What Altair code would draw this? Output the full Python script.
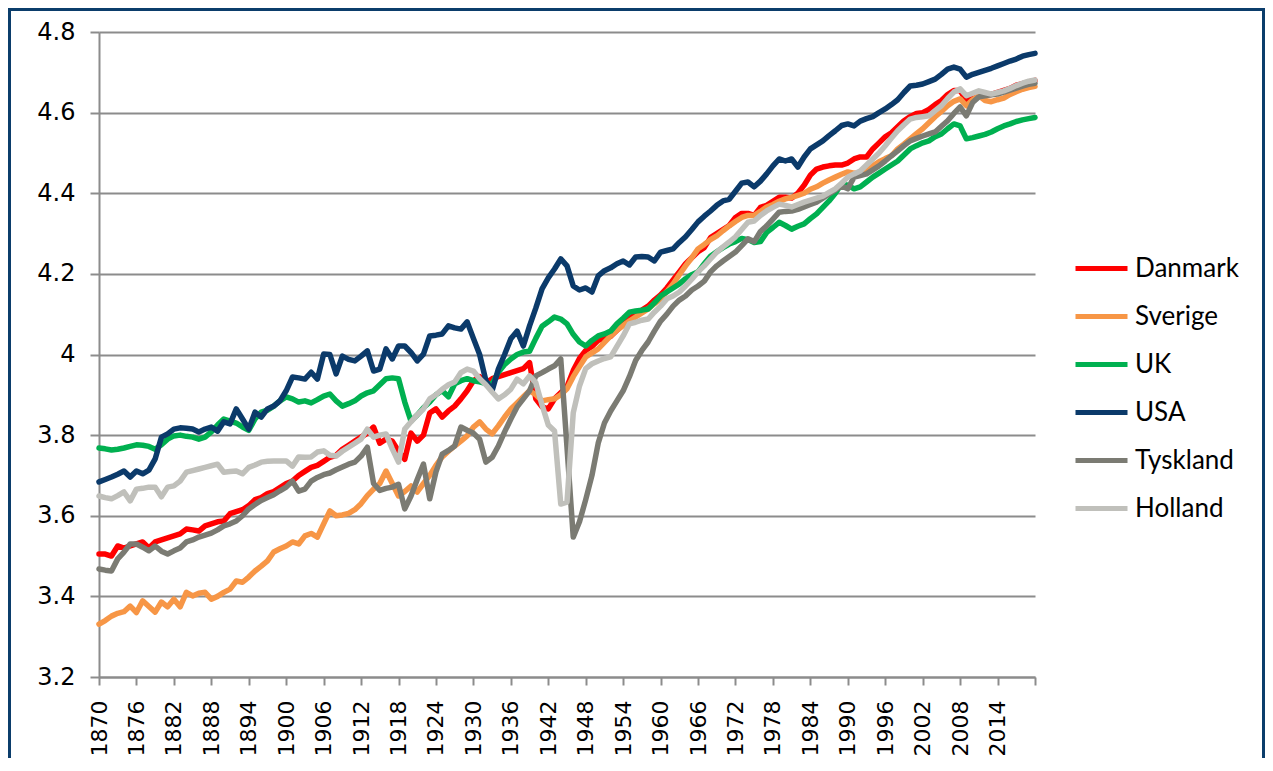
import altair as alt
import pandas as pd

years = list(range(1870, 2021))

countries = ["Danmark", "Sverige", "UK", "USA", "Tyskland", "Holland"]
colors = ["#FF0000", "#F79646", "#00B050", "#0B3A6A", "#7B7B73", "#C0C0BB"]

danmark = [
    3.505, 3.505, 3.500, 3.525, 3.520, 3.525, 3.530, 3.535, 3.520, 3.535,
    3.540, 3.545, 3.550, 3.555, 3.567, 3.565, 3.562, 3.575, 3.580, 3.585,
    3.587, 3.605, 3.610, 3.615, 3.625, 3.640, 3.645, 3.655, 3.660, 3.670,
    3.680, 3.686, 3.700, 3.710, 3.720, 3.725, 3.735, 3.745, 3.750, 3.765,
    3.775, 3.785, 3.795, 3.805, 3.820, 3.780, 3.790, 3.785, 3.760, 3.740,
    3.805, 3.785, 3.800, 3.855, 3.865, 3.845, 3.860, 3.872, 3.890, 3.910,
    3.935, 3.945, 3.930, 3.940, 3.945, 3.950, 3.955, 3.960, 3.965, 3.980,
    3.890, 3.870, 3.865, 3.890, 3.905, 3.920, 3.960, 3.990, 4.010, 4.020,
    4.035, 4.040, 4.045, 4.060, 4.075, 4.090, 4.100, 4.110, 4.120, 4.135,
    4.148, 4.165, 4.185, 4.205, 4.225, 4.240, 4.255, 4.265, 4.290, 4.300,
    4.310, 4.320, 4.340, 4.350, 4.350, 4.345, 4.365, 4.370, 4.380, 4.390,
    4.390, 4.388, 4.400, 4.420, 4.445, 4.460, 4.465, 4.468, 4.470, 4.470,
    4.475, 4.485, 4.490, 4.490, 4.510, 4.525, 4.540, 4.550, 4.565, 4.580,
    4.590, 4.598, 4.600, 4.608, 4.620, 4.630, 4.645, 4.655, 4.655, 4.630,
    4.635, 4.640, 4.645, 4.645, 4.650, 4.655, 4.660, 4.668, 4.672, 4.676,
    4.680,
]

sverige = [
    3.331, 3.340, 3.351, 3.358, 3.362, 3.376, 3.360, 3.389, 3.375, 3.361,
    3.386, 3.374, 3.393, 3.374, 3.410, 3.401, 3.408, 3.410, 3.393, 3.400,
    3.410, 3.418, 3.438, 3.435, 3.448, 3.463, 3.475, 3.488, 3.510, 3.518,
    3.525, 3.535, 3.530, 3.550, 3.556, 3.547, 3.580, 3.612, 3.600, 3.602,
    3.606, 3.615, 3.630, 3.650, 3.666, 3.680, 3.711, 3.680, 3.649, 3.660,
    3.674, 3.659, 3.680, 3.700, 3.725, 3.746, 3.760, 3.773, 3.785, 3.798,
    3.820, 3.833, 3.815, 3.803, 3.823, 3.845, 3.865, 3.880, 3.895, 3.910,
    3.900, 3.885, 3.888, 3.890, 3.900, 3.915, 3.945, 3.970, 3.994, 4.004,
    4.014, 4.030, 4.046, 4.060, 4.072, 4.083, 4.093, 4.103, 4.113, 4.126,
    4.138, 4.156, 4.175, 4.198, 4.220, 4.240, 4.262, 4.273, 4.285, 4.294,
    4.307, 4.319, 4.330, 4.340, 4.345, 4.345, 4.355, 4.366, 4.372, 4.380,
    4.386, 4.390, 4.395, 4.400, 4.410, 4.416, 4.425, 4.433, 4.440, 4.447,
    4.453, 4.450, 4.448, 4.458, 4.468, 4.478, 4.486, 4.493, 4.510, 4.522,
    4.535, 4.548, 4.560, 4.575, 4.590, 4.603, 4.617, 4.628, 4.634, 4.617,
    4.632, 4.642, 4.630, 4.627, 4.632, 4.636, 4.645, 4.652, 4.658, 4.662,
    4.665,
]

uk = [
    3.768, 3.766, 3.763, 3.765, 3.768, 3.772, 3.776, 3.775, 3.772, 3.765,
    3.776, 3.790, 3.798, 3.800, 3.797, 3.795, 3.790, 3.795, 3.808, 3.825,
    3.840, 3.835, 3.830, 3.820, 3.812, 3.840, 3.857, 3.862, 3.872, 3.885,
    3.895, 3.890, 3.882, 3.885, 3.880, 3.888, 3.897, 3.902, 3.885, 3.872,
    3.878, 3.885, 3.897, 3.905, 3.910, 3.925, 3.940, 3.942, 3.940, 3.882,
    3.835, 3.850, 3.868, 3.882, 3.900, 3.910, 3.895, 3.927, 3.935, 3.940,
    3.935, 3.932, 3.928, 3.927, 3.956, 3.975, 3.989, 4.000, 4.006, 4.008,
    4.040, 4.070, 4.081, 4.093, 4.088, 4.076, 4.050, 4.031, 4.021, 4.035,
    4.046, 4.051, 4.058, 4.076, 4.090, 4.105, 4.108, 4.110, 4.113, 4.128,
    4.145, 4.155, 4.165, 4.175, 4.188, 4.198, 4.205, 4.225, 4.244, 4.255,
    4.265, 4.274, 4.280, 4.288, 4.285, 4.278, 4.280, 4.303, 4.315, 4.328,
    4.320, 4.311, 4.318, 4.324, 4.337, 4.349, 4.365, 4.381, 4.400, 4.423,
    4.420, 4.411, 4.416, 4.428, 4.440, 4.450, 4.460, 4.470, 4.480, 4.495,
    4.510, 4.518, 4.525, 4.530, 4.540, 4.547, 4.560, 4.572, 4.567, 4.535,
    4.538, 4.542, 4.546, 4.552, 4.560, 4.567, 4.572, 4.578, 4.582, 4.585,
    4.588,
]

usa = [
    3.684, 3.690, 3.696, 3.703, 3.711, 3.696, 3.711, 3.704, 3.713, 3.741,
    3.795, 3.803, 3.815, 3.818, 3.817, 3.815, 3.808, 3.815, 3.820, 3.810,
    3.833, 3.828, 3.865, 3.840, 3.815, 3.857, 3.845, 3.865, 3.872, 3.885,
    3.910, 3.944, 3.942, 3.939, 3.956, 3.939, 4.001, 4.000, 3.952, 3.996,
    3.988, 3.984, 3.996, 4.009, 3.959, 3.964, 4.014, 3.989, 4.021, 4.021,
    4.005, 3.984, 4.001, 4.046, 4.048, 4.051, 4.071, 4.066, 4.063, 4.081,
    4.040, 4.000, 3.935, 3.910, 3.964, 4.000, 4.039, 4.058, 4.021, 4.071,
    4.115, 4.163, 4.190, 4.212, 4.237, 4.220, 4.170, 4.160, 4.165, 4.155,
    4.195, 4.208, 4.215, 4.225, 4.232, 4.222, 4.242, 4.243, 4.242, 4.232,
    4.254, 4.258, 4.262, 4.278, 4.292, 4.310, 4.329, 4.343, 4.356, 4.370,
    4.381, 4.385, 4.405, 4.425, 4.428, 4.416, 4.430, 4.448, 4.468, 4.485,
    4.480, 4.485, 4.465, 4.490, 4.510, 4.520, 4.530, 4.543, 4.555, 4.568,
    4.572, 4.567, 4.579, 4.585, 4.590, 4.600, 4.609, 4.620, 4.632, 4.650,
    4.666, 4.668, 4.671, 4.677, 4.683, 4.695, 4.708, 4.713, 4.708, 4.688,
    4.695, 4.700, 4.705, 4.710, 4.716, 4.722, 4.728, 4.733, 4.740, 4.744,
    4.747,
]

tyskland = [
    3.468, 3.465, 3.463, 3.493, 3.510, 3.530, 3.530, 3.522, 3.513, 3.525,
    3.512, 3.505, 3.513, 3.520, 3.535, 3.540, 3.547, 3.552, 3.557, 3.565,
    3.575, 3.580, 3.587, 3.600, 3.617, 3.628, 3.638, 3.645, 3.652, 3.662,
    3.671, 3.686, 3.661, 3.666, 3.686, 3.695, 3.702, 3.706, 3.714, 3.721,
    3.728, 3.733, 3.748, 3.770, 3.680, 3.663, 3.668, 3.671, 3.678, 3.617,
    3.649, 3.690, 3.728, 3.642, 3.709, 3.753, 3.762, 3.773, 3.820, 3.812,
    3.805, 3.790, 3.733, 3.745, 3.773, 3.808, 3.840, 3.870, 3.890, 3.910,
    3.947, 3.955, 3.964, 3.972, 3.989, 3.770, 3.547, 3.585, 3.640, 3.700,
    3.780, 3.830, 3.860, 3.885, 3.910, 3.945, 3.985, 4.010, 4.031, 4.058,
    4.083, 4.100, 4.120, 4.135, 4.145, 4.160, 4.170, 4.182, 4.205, 4.220,
    4.232, 4.243, 4.254, 4.270, 4.287, 4.280, 4.305, 4.319, 4.336, 4.353,
    4.355, 4.356, 4.360, 4.366, 4.372, 4.378, 4.388, 4.398, 4.408, 4.418,
    4.411, 4.440, 4.444, 4.448, 4.458, 4.468, 4.480, 4.493, 4.505, 4.518,
    4.530, 4.536, 4.542, 4.547, 4.552, 4.566, 4.580, 4.598, 4.614, 4.592,
    4.625, 4.639, 4.642, 4.644, 4.646, 4.651, 4.656, 4.661, 4.666, 4.670,
    4.673,
]

holland = [
    3.649, 3.645, 3.642, 3.650, 3.659, 3.637, 3.666, 3.668, 3.671, 3.671,
    3.647, 3.671, 3.674, 3.686, 3.708, 3.712, 3.716, 3.720, 3.724, 3.728,
    3.708, 3.710, 3.711, 3.704, 3.720, 3.726, 3.733, 3.735, 3.736, 3.736,
    3.736, 3.723, 3.746, 3.745, 3.746, 3.758, 3.761, 3.750, 3.748, 3.760,
    3.770, 3.780, 3.790, 3.815, 3.795, 3.800, 3.803, 3.766, 3.733, 3.815,
    3.833, 3.850, 3.865, 3.890, 3.900, 3.914, 3.925, 3.932, 3.955, 3.964,
    3.959, 3.940, 3.925, 3.907, 3.890, 3.900, 3.914, 3.939, 3.927, 3.947,
    3.930, 3.875, 3.825, 3.810, 3.629, 3.634, 3.855, 3.922, 3.965, 3.977,
    3.984, 3.990, 3.994, 4.020, 4.046, 4.076, 4.080, 4.085, 4.088, 4.105,
    4.120, 4.138, 4.145, 4.155, 4.170, 4.187, 4.205, 4.220, 4.237, 4.254,
    4.267, 4.279, 4.292, 4.310, 4.328, 4.331, 4.345, 4.356, 4.365, 4.373,
    4.370, 4.366, 4.372, 4.378, 4.383, 4.388, 4.393, 4.402, 4.411, 4.425,
    4.440, 4.448, 4.455, 4.470, 4.485, 4.500, 4.518, 4.537, 4.555, 4.570,
    4.584, 4.588, 4.590, 4.592, 4.605, 4.617, 4.635, 4.651, 4.659, 4.642,
    4.648, 4.654, 4.650, 4.646, 4.650, 4.654, 4.660, 4.667, 4.673, 4.678,
    4.681,
]

x_ticks = list(range(1870, 2021, 6))
y_ticks = [3.2, 3.4, 3.6, 3.8, 4.0, 4.2, 4.4, 4.6, 4.8]

series = [danmark, sverige, uk, usa, tyskland, holland]
rows = []
for name, vals in zip(countries, series):
    assert len(vals) == len(years), (name, len(vals))
    for yr, v in zip(years, vals):
        rows.append({"Year": yr, "Land": name, "Value": v})
df = pd.DataFrame(rows)

W, H = 936, 645
PAD = {"left": 91, "top": 24, "right": 230, "bottom": 81}
GRID = "#8c8c8c"
NAVY = "#0B3D6B"

lines = alt.Chart(df).mark_line(
    strokeWidth=5.5, strokeJoin="round", strokeCap="round"
).encode(
    x=alt.X(
        "Year:Q",
        scale=alt.Scale(domain=[1870, 2020], nice=False, zero=False),
        axis=alt.Axis(
            values=x_ticks, format="d", labelAngle=270,
            labelExpr="datum.value >= 2020 ? '' : datum.label",
            grid=False, title=None,
            labelFont="DejaVu Sans", labelFontSize=22, labelColor="#000000",
            labelPadding=15, tickSize=8, tickColor=GRID, tickWidth=2,
            domainColor=GRID, domainWidth=2, labelOverlap=False,
        ),
    ),
    y=alt.Y(
        "Value:Q",
        scale=alt.Scale(domain=[3.2, 4.8], nice=False, zero=False),
        axis=alt.Axis(
            values=y_ticks, format=".1~f", grid=True, gridColor=GRID, gridWidth=2,
            title=None, labelFont="DejaVu Sans", labelFontSize=24,
            labelColor="#000000", labelPadding=15, tickSize=9, tickColor=GRID,
            tickWidth=2, domainColor=GRID, domainWidth=2,
        ),
    ),
    color=alt.Color(
        "Land:N",
        scale=alt.Scale(domain=countries, range=colors),
        legend=alt.Legend(
            title=None, orient="none", legendX=974, legendY=208,
            symbolType="stroke", symbolSize=2704, symbolStrokeWidth=5,
            labelFont="Lato", labelFontSize=26, labelColor="#000000",
            labelOffset=5, rowPadding=6, padding=0,
        ),
    ),
)

border = alt.Chart(pd.DataFrame({"b": [0]})).mark_rect(
    filled=False, stroke=NAVY, strokeWidth=3
).encode(
    x=alt.value(-PAD["left"] + 1.5),
    x2=alt.value(W + PAD["right"] - 1.5),
    y=alt.value(-PAD["top"] + 1.5),
    y2=alt.value(H + PAD["bottom"] + 20),
)

chart = alt.layer(lines, border).properties(
    width=W, height=H, padding=PAD, autosize=alt.AutoSizeParams(type="none"),
    background="white",
).configure_view(stroke="transparent")

chart.save("out.html", embed_options={"renderer": "svg", "actions": False})
